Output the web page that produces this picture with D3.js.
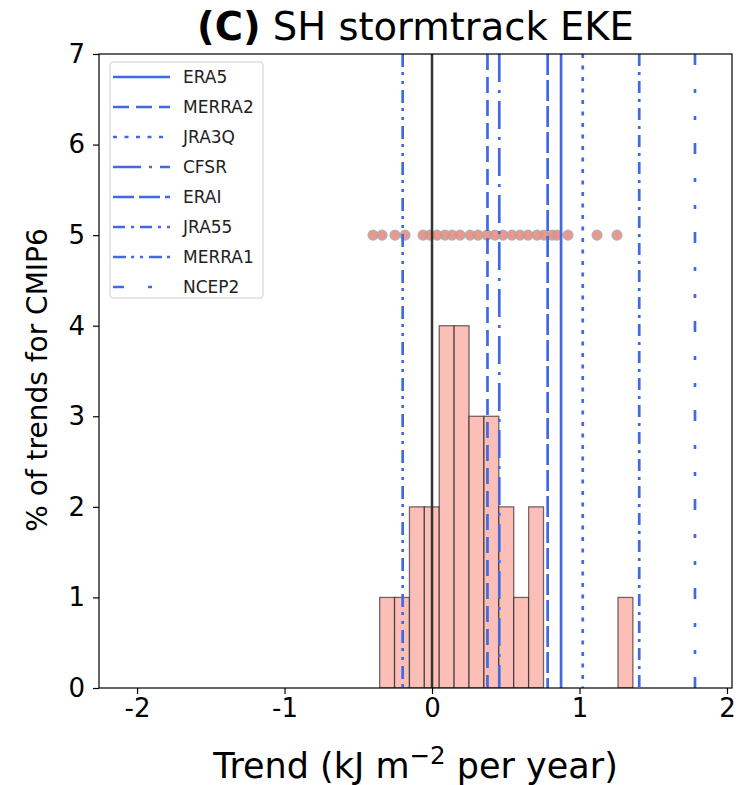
<!DOCTYPE html>
<html>
<head>
<meta charset="utf-8">
<script src="https://cdn.jsdelivr.net/npm/d3@7"></script>
<style>
  body { margin: 0; background: #fff; }
  text { font-family: "DejaVu Sans", sans-serif; }
</style>
</head>
<body>
<div id="chart"></div>
<script>
// histogram of CMIP6 trends (bin edges + counts)
const histEdges = [-0.355, -0.254, -0.153, -0.052, 0.049, 0.150, 0.251, 0.352, 0.453,
  0.554, 0.655, 0.756, 0.857, 0.958, 1.059, 1.160, 1.261, 1.362];
const histCounts = [1, 1, 2, 2, 4, 4, 3, 3, 2, 1, 2, 0, 0, 0, 0, 0, 1];

// individual model trends (the row of dots)
const modelTrends = [-0.40, -0.339, -0.251, -0.183, -0.061, -0.014, 0.034, 0.088, 0.136,
  0.19, 0.258, 0.312, 0.373, 0.427, 0.481, 0.542, 0.597, 0.651, 0.712, 0.759, 0.814,
  0.847, 0.922, 1.119, 1.254];
const dotLevel = 5;

// reanalysis trends
const reanNames = ["ERA5", "MERRA2", "JRA3Q", "CFSR", "ERAI", "JRA55", "MERRA1", "NCEP2"];
const reanTrends = [0.875, 0.376, 1.022, 0.456, 0.784, 1.405, -0.199, 1.783];
const reanDash = ["none", "16,7", "4,7.5", "28,8,3,8", "21,5", "12,6,3,6", "13,5,3,6,3,6", "11,24,4,23,4,23"];

const xTicks = [-2, -1, 0, 1, 2];
const yTicks = [0, 1, 2, 3, 4, 5, 6, 7];

const W = 756, H = 785;
const margin = {left: 99, top: 54, right: 24, bottom: 97};
const width = W - margin.left - margin.right,
  height = H - margin.top - margin.bottom;

const svg = d3.select("#chart").append("svg")
  .attr("width", W)
  .attr("height", H);

const g = svg.append("g")
  .attr("transform", "translate(" + margin.left + "," + margin.top + ")");

const x = d3.scaleLinear().domain([-2.258, 2.034]).range([0, width]);
const y = d3.scaleLinear().domain([0, 7]).range([height, 0]);

// clip so lines stay inside the axes
g.append("clipPath").attr("id", "clip")
  .append("rect").attr("width", width).attr("height", height);
const plot = g.append("g").attr("clip-path", "url(#clip)");

// histogram bars
const bins = histCounts.map(function (c, i) {
  return {x0: histEdges[i], x1: histEdges[i + 1], n: c};
}).filter(function (d) { return d.n > 0; });

plot.selectAll("rect.bar")
  .data(bins)
  .enter()
  .append("rect")
  .attr("class", "bar")
  .attr("x", function (d) { return x(d.x0); })
  .attr("width", function (d) { return x(d.x1) - x(d.x0); })
  .attr("y", function (d) { return y(d.n); })
  .attr("height", function (d) { return y(0) - y(d.n); })
  .attr("fill", "#fcbfb8")
  .attr("stroke", "#000")
  .attr("stroke-opacity", 0.55)
  .attr("stroke-width", 1.3);

// model dots
plot.selectAll("circle.dot")
  .data(modelTrends)
  .enter()
  .append("circle")
  .attr("class", "dot")
  .attr("cx", function (d) { return x(d); })
  .attr("cy", y(dotLevel))
  .attr("r", 4.7)
  .attr("fill", "#f08a7e")
  .attr("stroke", "#a9a9a9")
  .attr("stroke-width", 1.8)
  .attr("opacity", 0.9);

// zero line
plot.append("line")
  .attr("x1", x(0)).attr("x2", x(0))
  .attr("y1", 0).attr("y2", height)
  .attr("stroke", "#333")
  .attr("stroke-width", 2.5);

// reanalysis lines
plot.selectAll("line.rean")
  .data(reanTrends)
  .enter()
  .append("line")
  .attr("class", "rean")
  .attr("x1", function (d) { return x(d); })
  .attr("x2", function (d) { return x(d); })
  .attr("y1", 0).attr("y2", height)
  .attr("stroke", "#4169e1")
  .attr("stroke-width", 2.7)
  .attr("stroke-dasharray", function (d, i) { return reanDash[i]; });

// axes
const xAxis = g.append("g")
  .attr("transform", "translate(0," + height + ")")
  .call(d3.axisBottom(x).tickValues(xTicks).tickSize(6).tickPadding(5)
    .tickFormat(function (d) { return d3.format("d")(d).replace("\u2212", "-"); }));
const yAxis = g.append("g")
  .call(d3.axisLeft(y).tickValues(yTicks).tickSize(6).tickPadding(8)
    .tickFormat(d3.format("d")));

[xAxis, yAxis].forEach(function (a) {
  a.selectAll("text").style("font-size", "26px").attr("fill", "#000");
  a.selectAll("line").attr("stroke", "#000").attr("stroke-width", 1.2);
  a.select(".domain").remove();
});

// frame
g.append("rect")
  .attr("width", width).attr("height", height)
  .attr("fill", "none")
  .attr("stroke", "#000")
  .attr("stroke-width", 1.2);

// legend
const leg = g.append("g").attr("transform", "translate(11,8)");
leg.append("rect")
  .attr("width", 153).attr("height", 236)
  .attr("rx", 3)
  .attr("fill", "#fff").attr("fill-opacity", 0.8)
  .attr("stroke", "#ccc");

const legRow = leg.selectAll("g.row")
  .data(reanNames)
  .enter()
  .append("g")
  .attr("class", "row")
  .attr("transform", function (d, i) { return "translate(0," + (15 + i * 30) + ")"; });

legRow.append("line")
  .attr("x1", 3).attr("x2", 60)
  .attr("stroke", "#4169e1")
  .attr("stroke-width", 2.7)
  .attr("stroke-dasharray", function (d, i) { return reanDash[i]; });

legRow.append("text")
  .attr("x", 73).attr("y", 6)
  .style("font-size", "17px")
  .attr("fill", "#222")
  .text(function (d) { return d; });

// title
const title = svg.append("text")
  .attr("x", margin.left + width / 2)
  .attr("y", 40)
  .attr("text-anchor", "middle")
  .style("font-size", "38.5px");
title.append("tspan").style("font-weight", "bold").text("(C)");
title.append("tspan").text(" SH stormtrack EKE");

// axis labels
svg.append("text")
  .attr("transform", "translate(47," + (margin.top + height / 2 + 9) + ") rotate(-90)")
  .attr("text-anchor", "middle")
  .style("font-size", "28px")
  .text("% of trends for CMIP6");

const xl = svg.append("text")
  .attr("x", margin.left + width / 2)
  .attr("y", 778)
  .attr("text-anchor", "middle")
  .style("font-size", "35px");
xl.append("tspan").text("Trend (kJ m");
xl.append("tspan").attr("dy", -14).style("font-size", "24.5px").text("\u22122");
xl.append("tspan").attr("dy", 14).text(" per year)");
</script>
</body>
</html>
